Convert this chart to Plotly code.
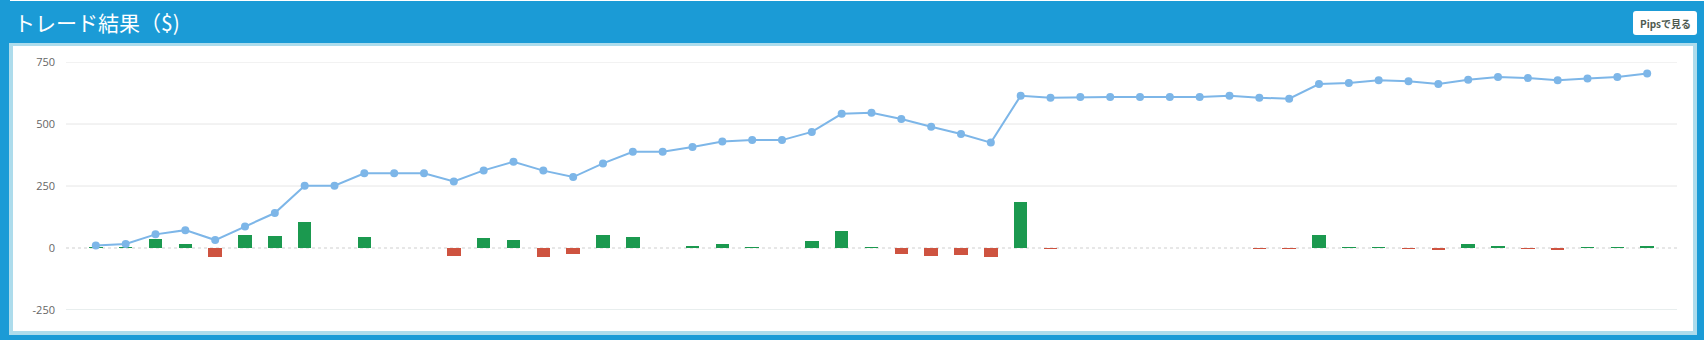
import plotly.graph_objects as go

# ---- data ----
trade_no = list(range(1, 54))
profit = [4, 1, 38, 15, -38, 51, 48, 106, 0, 44,
          0, 0, -33, 40, 34, -36, -26, 51, 44, 0,
          10, 17, 1, 0, 30, 70, 1, -26, -33, -30,
          -36, 186, -4, 0, 0, 0, 0, 0, 0, -4,
          -4, 54, 2, 4, -3, -8, 15, 8, -3, -8,
          3, 3, 8]
balance = [10, 16, 55, 72, 32, 87, 141, 251, 251, 301,
           301, 301, 268, 313, 348, 312, 286, 341, 388, 388,
           407, 429, 435, 435, 468, 541, 545, 520, 489, 460,
           425, 614, 606, 609, 609, 609, 609, 609, 614, 606,
           602, 661, 665, 676, 672, 661, 678, 690, 685, 676,
           683, 690, 704]
y_ticks = [-250, 0, 250, 500, 750]
y_tick_text = ["-250", "0", "250", "500", "750"]
title_text = "トレード結果（$)"
button_text = "Pipsで見る"

# ---- layout geometry (pixels) ----
W, H = 1704, 340
PL, PR, PT, PB = 66, 1677, 62, 310  # plot area


def px(x):
    return (x - PL) / (PR - PL)


def py(y):
    return (PB - y) / (PB - PT)


BLUE = "#1B9BD6"
LIGHT = "#ADDCEC"
GREEN = "#1B994F"
RED = "#CE5340"
LINE = "#7DB6E8"

bar_colors = [GREEN if v >= 0 else RED for v in profit]

fig = go.Figure()
fig.add_trace(go.Bar(x=trade_no, y=profit, width=0.45,
                     marker=dict(color=bar_colors, line=dict(width=0)),
                     hoverinfo="skip"))
fig.add_trace(go.Scatter(x=trade_no, y=balance, mode="lines+markers",
                         line=dict(color=LINE, width=2),
                         marker=dict(color=LINE, size=8),
                         hoverinfo="skip"))

shapes = []
# light border and white panel
shapes.append(dict(type="rect", xref="paper", yref="paper", layer="below",
                   x0=px(9), x1=px(1697), y0=py(335), y1=py(43),
                   fillcolor=LIGHT, line=dict(width=0)))
shapes.append(dict(type="rect", xref="paper", yref="paper", layer="below",
                   x0=px(13), x1=px(1693), y0=py(331), y1=py(46),
                   fillcolor="white", line=dict(width=0)))
# top thin white line
shapes.append(dict(type="rect", xref="paper", yref="paper", layer="below",
                   x0=px(10), x1=px(W), y0=py(1), y1=py(0),
                   fillcolor="white", line=dict(width=0)))
# button (rounded rect)
bx0, bx1, by0, by1, r = 1633, 1697, 11, 35, 3
path = (f"M {px(bx0 + r)},{py(by0)} L {px(bx1 - r)},{py(by0)} "
        f"Q {px(bx1)},{py(by0)} {px(bx1)},{py(by0 + r)} "
        f"L {px(bx1)},{py(by1 - r)} Q {px(bx1)},{py(by1)} {px(bx1 - r)},{py(by1)} "
        f"L {px(bx0 + r)},{py(by1)} Q {px(bx0)},{py(by1)} {px(bx0)},{py(by1 - r)} "
        f"L {px(bx0)},{py(by0 + r)} Q {px(bx0)},{py(by0)} {px(bx0 + r)},{py(by0)} Z")
shapes.append(dict(type="path", xref="paper", yref="paper", layer="below",
                   path=path, fillcolor="white", line=dict(width=0)))
# gridlines
for v in y_ticks:
    if v == 0:
        shapes.append(dict(type="line", xref="paper", yref="y", layer="below",
                           x0=0, x1=1, y0=v, y1=v,
                           line=dict(color="#CFCFCF", width=1, dash="dot")))
    elif v == y_ticks[0]:
        shapes.append(dict(type="line", xref="paper", yref="y", layer="below",
                           x0=0, x1=1, y0=v, y1=v,
                           line=dict(color="#E8EEEE", width=2)))
    else:
        shapes.append(dict(type="line", xref="paper", yref="y", layer="below",
                           x0=0, x1=1, y0=v, y1=v,
                           line=dict(color="#E6E6E6", width=1)))

annotations = [
    dict(text=title_text, xref="paper", yref="paper", x=px(12), y=py(22),
         xanchor="left", yanchor="middle", showarrow=False,
         font=dict(family="Noto Sans CJK JP", size=21, color="white")),
    dict(text=f"<b>{button_text}</b>", xref="paper", yref="paper",
         x=px((bx0 + bx1) / 2), y=py((by0 + by1) / 2),
         xanchor="center", yanchor="middle", showarrow=False,
         font=dict(family="Noto Sans CJK JP", size=10, color="#4E5A50")),
]

fig.update_layout(
    width=W, height=H,
    margin=dict(l=PL, r=W - PR, t=PT, b=H - PB),
    paper_bgcolor=BLUE, plot_bgcolor="rgba(0,0,0,0)",
    showlegend=False, bargap=0,
    shapes=shapes, annotations=annotations,
    xaxis=dict(range=[0, 54], visible=False, showgrid=False, zeroline=False),
    yaxis=dict(range=[-250, 750], tickvals=y_ticks, ticktext=y_tick_text,
               showgrid=False, zeroline=False, showline=False,
               ticks="", ticklabelstandoff=10,
               tickfont=dict(family="Open Sans", size=11, color="#666666")),
)

fig.write_html("out.html")
